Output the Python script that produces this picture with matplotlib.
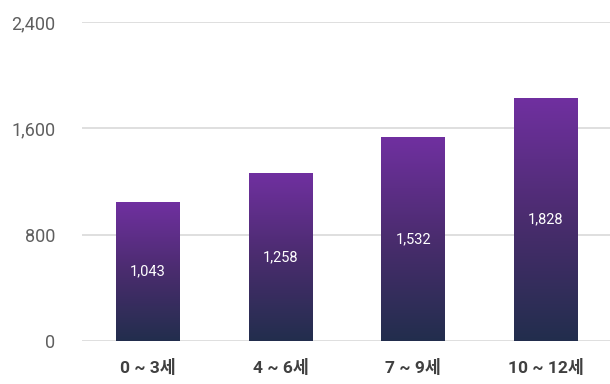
import matplotlib.pyplot as plt
import numpy as np
from matplotlib.colors import LinearSegmentedColormap

plt.rcParams['font.family'] = ['Roboto', 'Noto Sans CJK KR', 'DejaVu Sans']

categories = ['0 ~ 3세', '4 ~ 6세', '7 ~ 9세', '10 ~ 12세']
values = [1043, 1258, 1532, 1828]
yticks = [0, 800, 1600, 2400]

# purple at the top fading to dark navy at the base
cmap = LinearSegmentedColormap.from_list('bar_grad', ['#222e4d', '#4a2c6e', '#7030a0'])
grad = np.linspace(0, 1, 256).reshape(-1, 1)

fig = plt.figure(figsize=(6.1, 3.84), dpi=100)
ax = fig.add_axes([0.1344, 0.112, 0.8689, 0.8307])

width = 0.48
x = np.arange(len(categories))
for xi, v in zip(x, values):
    ax.imshow(grad, cmap=cmap, origin='lower', aspect='auto',
              extent=[xi - width / 2, xi + width / 2, 0, v], zorder=3)
    ax.text(xi, v / 2, f'{v:,}', ha='center', va='center',
            color='white', fontsize=10.5, zorder=4)

ax.set_xlim(-0.5, len(categories) - 0.5)
ax.set_ylim(0, 2400)
ax.set_yticks(yticks)
ax.set_yticklabels([f'{t:,}' for t in yticks], color='#5f5f5f', fontsize=13)
ax.set_xticks(x)
ax.set_xticklabels(categories, color='#404040', fontsize=12.5, fontweight='bold')
ax.tick_params(axis='both', length=0)
ax.tick_params(axis='y', pad=19)
ax.tick_params(axis='x', pad=13)

ax.grid(axis='y', color='#d9d9d9', linewidth=1.2, zorder=0)
for s in ax.spines.values():
    s.set_visible(False)

fig.savefig('out.png', dpi=100)
